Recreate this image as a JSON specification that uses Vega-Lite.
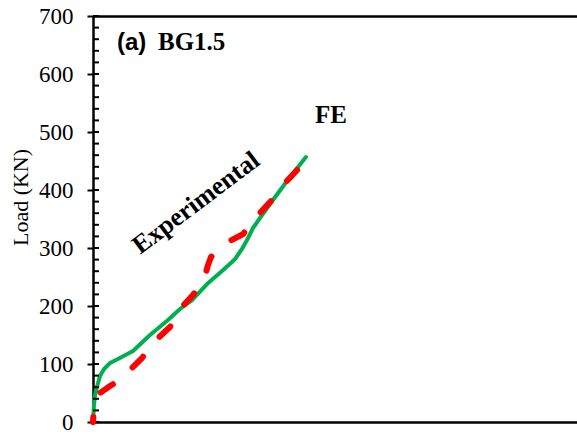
{
  "$schema": "https://vega.github.io/schema/vega-lite/v6.json",
  "width": 484,
  "height": 406,
  "autosize": {"type": "none"},
  "padding": {"left": 93, "top": 16, "right": 0, "bottom": 14},
  "background": "white",
  "config": {"view": {"stroke": null}, "axis": {"grid": false}},
  "datasets": {
    "fe": [
      {"deflection": 0, "load": 0},
      {"deflection": 0.10, "load": 29.3},
      {"deflection": 0.21, "load": 46.6},
      {"deflection": 0.41, "load": 60.3},
      {"deflection": 0.72, "load": 79.3},
      {"deflection": 1.14, "load": 91.4},
      {"deflection": 1.76, "load": 101.7},
      {"deflection": 2.58, "load": 108.6},
      {"deflection": 4.13, "load": 122.4},
      {"deflection": 5.89, "load": 150},
      {"deflection": 7.75, "load": 175.9},
      {"deflection": 8.99, "load": 194.8},
      {"deflection": 10.23, "load": 210.3},
      {"deflection": 11.78, "load": 237.9},
      {"deflection": 13.33, "load": 260.3},
      {"deflection": 14.36, "load": 275.9},
      {"deflection": 14.67, "load": 281.0},
      {"deflection": 15.39, "load": 298.3},
      {"deflection": 15.91, "load": 313.8},
      {"deflection": 16.53, "load": 334.5},
      {"deflection": 17.25, "load": 351.7},
      {"deflection": 18.29, "load": 375.9},
      {"deflection": 20.04, "load": 415.5},
      {"deflection": 22.0, "load": 456.9}
    ],
    "exp": [
      {"deflection": 0, "load": 0},
      {"deflection": 0.10, "load": 25.9},
      {"deflection": 0.31, "load": 37.9},
      {"deflection": 0.72, "load": 50},
      {"deflection": 1.76, "load": 62.1},
      {"deflection": 2.79, "load": 72.4},
      {"deflection": 3.62, "load": 86.2},
      {"deflection": 5.06, "load": 110.3},
      {"deflection": 6.40, "load": 139.7},
      {"deflection": 7.95, "load": 163.8},
      {"deflection": 8.99, "load": 194.8},
      {"deflection": 10.33, "load": 219},
      {"deflection": 11.57, "load": 251.7},
      {"deflection": 11.88, "load": 270.7},
      {"deflection": 12.19, "load": 284.5},
      {"deflection": 13.95, "load": 310.3},
      {"deflection": 15.50, "load": 324.1},
      {"deflection": 17.05, "load": 356.9},
      {"deflection": 18.49, "load": 382.8},
      {"deflection": 19.83, "load": 412.1},
      {"deflection": 21.28, "load": 437.9}
    ],
    "minor": [
      {"v": 0}, {"v": 20}, {"v": 40}, {"v": 60}, {"v": 80}, {"v": 100},
      {"v": 120}, {"v": 140}, {"v": 160}, {"v": 180}, {"v": 200},
      {"v": 220}, {"v": 240}, {"v": 260}, {"v": 280}, {"v": 300},
      {"v": 320}, {"v": 340}, {"v": 360}, {"v": 380}, {"v": 400},
      {"v": 420}, {"v": 440}, {"v": 460}, {"v": 480}, {"v": 500},
      {"v": 520}, {"v": 540}, {"v": 560}, {"v": 580}, {"v": 600},
      {"v": 620}, {"v": 640}, {"v": 660}, {"v": 680}, {"v": 700}
    ]
  },
  "resolve": {"axis": {"x": "independent", "y": "independent"}},
  "layer": [
    {
      "data": {"name": "fe"},
      "mark": {"type": "line", "color": "#00B050", "strokeWidth": 4, "strokeCap": "round", "strokeJoin": "round"},
      "encoding": {
        "x": {
          "field": "deflection", "type": "quantitative",
          "scale": {"domain": [0, 50], "nice": false, "zero": false},
          "axis": {"orient": "bottom", "labels": false, "ticks": false, "title": null, "domainWidth": 2.5, "domainColor": "#000"}
        },
        "y": {
          "field": "load", "type": "quantitative",
          "scale": {"domain": [0, 700], "nice": false},
          "axis": {
            "orient": "left",
            "values": [0, 100, 200, 300, 400, 500, 600, 700],
            "tickSize": 6, "tickWidth": 2, "tickColor": "#000",
            "domainWidth": 2.5, "domainColor": "#000",
            "labelFont": "Liberation Serif", "labelFontSize": 23, "labelColor": "#000", "labelPadding": 14,
            "title": "Load (KN)", "titleFont": "Liberation Serif", "titleFontSize": 22, "titleFontWeight": "normal",
            "titleColor": "#000", "titleX": -66, "titleY": 181, "titleAngle": -90, "titleAlign": "center", "titleBaseline": "alphabetic"
          }
        }
      }
    },
    {
      "data": {"name": "minor"},
      "mark": {"type": "rule", "color": "#000", "strokeWidth": 2},
      "encoding": {
        "x": {"datum": 0, "type": "quantitative", "axis": null},
        "x2": {"datum": 0.62},
        "y": {"field": "v", "type": "quantitative", "axis": null}
      }
    },
    {
      "data": {"name": "exp"},
      "mark": {"type": "line", "color": "#FF0000", "strokeWidth": 6, "strokeCap": "round", "strokeJoin": "round", "strokeDash": [15, 26], "strokeDashOffset": 10},
      "encoding": {
        "x": {
          "field": "deflection", "type": "quantitative",
          "axis": {"orient": "top", "labels": false, "ticks": false, "title": null, "domainWidth": 2.5, "domainColor": "#000"}
        },
        "y": {"field": "load", "type": "quantitative", "axis": null}
      }
    },
    {
      "data": {"values": [{"label": "(a)"}]},
      "mark": {"type": "text", "font": "Liberation Sans", "fontWeight": "bold", "fontSize": 24, "align": "left", "baseline": "alphabetic", "color": "#000"},
      "encoding": {
        "x": {"datum": 2.48, "type": "quantitative", "axis": null},
        "y": {"datum": 641.4, "type": "quantitative", "axis": null},
        "text": {"field": "label"}
      }
    },
    {
      "data": {"values": [{"label": "BG1.5"}]},
      "mark": {"type": "text", "font": "Liberation Serif", "fontWeight": "bold", "fontSize": 25, "align": "left", "baseline": "alphabetic", "color": "#000"},
      "encoding": {
        "x": {"datum": 6.71, "type": "quantitative", "axis": null},
        "y": {"datum": 641.4, "type": "quantitative", "axis": null},
        "text": {"field": "label"}
      }
    },
    {
      "data": {"values": [{"label": "FE"}]},
      "mark": {"type": "text", "font": "Liberation Serif", "fontWeight": "bold", "fontSize": 25, "align": "left", "baseline": "alphabetic", "color": "#000"},
      "encoding": {
        "x": {"datum": 22.93, "type": "quantitative", "axis": null},
        "y": {"datum": 515.5, "type": "quantitative", "axis": null},
        "text": {"field": "label"}
      }
    },
    {
      "data": {"values": [{"label": "Experimental"}]},
      "mark": {"type": "text", "font": "Liberation Serif", "fontWeight": "bold", "fontSize": 26, "align": "center", "baseline": "alphabetic", "angle": -37, "color": "#000"},
      "encoding": {
        "x": {"datum": 11.14, "type": "quantitative", "axis": null},
        "y": {"datum": 366.9, "type": "quantitative", "axis": null},
        "text": {"field": "label"}
      }
    }
  ]
}
